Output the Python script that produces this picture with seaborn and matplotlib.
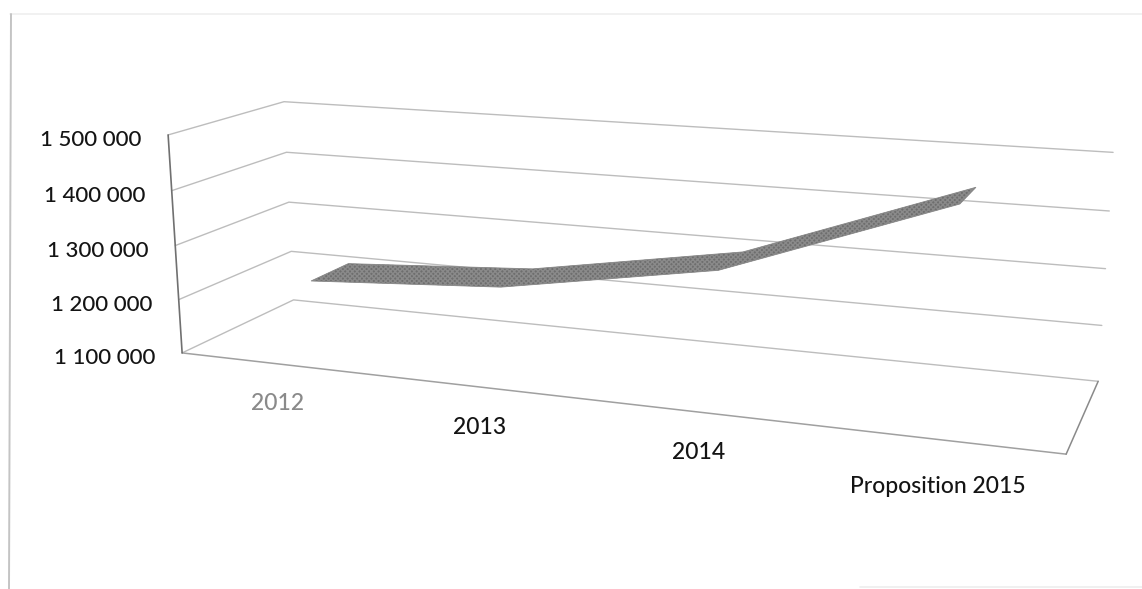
import numpy as np
import pandas as pd
import matplotlib
matplotlib.use("Agg")
import matplotlib.pyplot as plt
import seaborn as sns

# Chart content
categories = ["2012", "2013", "2014", "Proposition 2015"]
budget = [1231000, 1253000, 1317000, 1458000]
axis_ticks = [1100000, 1200000, 1300000, 1400000, 1500000]
tick_labels = ["1 100 000", "1 200 000", "1 300 000", "1 400 000", "1 500 000"]

V_MIN, V_MAX = axis_ticks[0], axis_ticks[-1]
RIBBON_FRONT, RIBBON_BACK = 0.24, 0.59


def camera_from_references():
    """Solve a pinhole camera for the 3-D box from its known corners."""
    w = []
    for (u, d), col in [((0, 0), [(182, 353), (179, 299), (176, 245), (172, 191), (167, 135)]),
                        ((0, 1), [(294, 300), (290, 252), (288, 202), (288, 153), (284, 101)]),
                        ((1, 1), [(1098, 381), (1102, 325), (1106, 268), (1109, 211), (1113, 153)]),
                        ((1, 0), [(1066, 455)])]:
        for k, (px, py) in enumerate(col):
            w.append((u, d, k / 4, px, py))
    rows = []
    for u, d, v, px, py in w:
        X = [u, d, v, 1]
        rows.append(X + [0, 0, 0, 0] + [-px * c for c in X])
        rows.append([0, 0, 0, 0] + X + [-py * c for c in X])
    return np.linalg.svd(np.array(rows, float))[2][-1].reshape(3, 4)


CAM = camera_from_references()


def project(u, d, value):
    """Map category position, depth and value to canvas position."""
    v = (np.asarray(value, float) - V_MIN) / (V_MAX - V_MIN)
    u, d = np.broadcast_arrays(np.asarray(u, float), np.asarray(d, float))
    X = np.stack([u, d, v * np.ones_like(u), np.ones_like(u)])
    h = CAM @ X
    return h[0] / h[2], h[1] / h[2]


sns.set_theme(style="white")
plt.rcParams["font.family"] = ["Lato", "DejaVu Sans"]

fig = plt.figure(figsize=(11.42, 5.89), dpi=100)
ax = fig.add_axes([0, 0, 1, 1])
ax.set_xlim(0, 1142)
ax.set_ylim(589, 0)
ax.axis("off")


def segment(xs, ys, color, lw):
    frame = pd.DataFrame({"x": xs, "y": ys})
    sns.lineplot(data=frame, x="x", y="y", sort=False, estimator=None,
                 color=color, linewidth=lw, ax=ax, legend=False)


# Gridlines along the side and back walls
for tick in axis_ticks:
    x, y = project([0, 0, 1], [0, 1, 1], tick)
    segment(x, y, "#bdbdbd", 1.0)

# Floor outline and value axis
x, y = project([0, 1, 1, 0], [0, 0, 1, 1], V_MIN)
segment(x[:2], y[:2], "#a0a0a0", 1.1)
segment(x[1:3], y[1:3], "#8a8a8a", 1.1)
x, y = project([0, 0], [0, 0], [V_MIN, V_MAX])
segment(x, y, "#707070", 1.2)

# Ribbon for the series; the first category sits slightly inward
u = (np.arange(len(categories)) + 0.5) / len(categories)
ribbon_u = u + np.array([0.013, 0, 0, 0])
fx, fy = project(ribbon_u, RIBBON_FRONT, budget)
bx, by = project(ribbon_u, RIBBON_BACK, budget)
ax.fill(np.r_[fx, bx[::-1]], np.r_[fy, by[::-1]], facecolor="#6e6e6e",
        edgecolor="#8a8a8a", hatch="xxxxxxx", linewidth=0.6, zorder=3)

# Value labels to the left of the axis
for tick, label in zip(axis_ticks, tick_labels):
    x, y = project(0, 0, tick)
    ax.text(x - 77, y + 5, label, ha="center", va="center", fontsize=16,
            fontweight="medium", color="#141414")

# Category labels under the floor edge
colors = ["#8a8a8a", "#141414", "#141414", "#141414"]
drops = [40, 41, 40, 47]
for pos, label, color, drop in zip(u, categories, colors, drops):
    x, y = project(pos, 0, V_MIN)
    ax.text(x, y + drop, label, ha="center", va="center", fontsize=16.5,
            fontweight="medium", color=color)

# Page edges left by the scanner
segment([10, 1142], [14, 14], "#efefef", 1.2)
segment([11, 9], [14, 589], "#c4c4c4", 1.4)
segment([860, 1142], [587, 587], "#ededed", 1.2)

fig.savefig("out.png", dpi=100, facecolor="white")
